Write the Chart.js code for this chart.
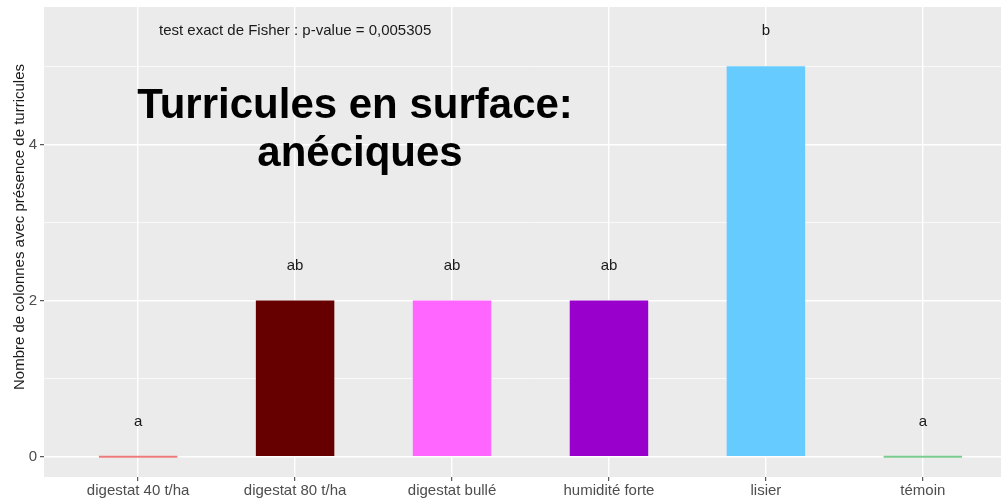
<!DOCTYPE html>
<html>
<head>
<meta charset="utf-8">
<script src="https://cdn.jsdelivr.net/npm/chart.js@4"></script>
<style>
  html, body { margin: 0; padding: 0; background: #fff; overflow: hidden; }
  canvas { display: block; }
</style>
</head>
<body>
<canvas id="chart" width="1017" height="502"></canvas>
<script>
// data
const categories = ['digestat 40 t/ha', 'digestat 80 t/ha', 'digestat bullé', 'humidité forte', 'lisier', 'témoin'];
const counts = [0, 2, 2, 2, 5, 0];
const letters = ['a', 'ab', 'ab', 'ab', 'b', 'a'];
const barColors = ['#EE7B7B', '#660000', '#FF66FF', '#9900CC', '#66CCFF', '#7ACB8E'];
const yTicks = [0, 2, 4];
const yTitle = 'Nombre de colonnes avec présence de turricules';
const fisherText = 'test exact de Fisher : p-value = 0,005305';
const titleLines = ['Turricules en surface:', 'anéciques'];

const FONT = '"Liberation Sans", Arial, sans-serif';

// grey ggplot panel
const panelBg = {
  id: 'panelBg',
  beforeDraw(chart) {
    const a = chart.chartArea;
    const ctx = chart.ctx;
    ctx.save();
    ctx.fillStyle = '#EBEBEB';
    ctx.fillRect(a.left, a.top, a.right - a.left, a.bottom - a.top);
    ctx.restore();
  }
};

// letters above bars, Fisher annotation, y title and the pasted title
const annotations = {
  id: 'annotations',
  afterDatasetsDraw(chart) {
    const ctx = chart.ctx;
    const x = chart.scales.x, y = chart.scales.y;
    ctx.save();
    ctx.fillStyle = '#1A1A1A';
    ctx.font = '15px ' + FONT;
    ctx.textAlign = 'center';
    ctx.textBaseline = 'middle';
    letters.forEach((l, i) => {
      ctx.fillText(l, x.getPixelForValue(i), y.getPixelForValue(counts[i] + 0.45));
    });
    ctx.fillText(fisherText, x.getPixelForValue(1), y.getPixelForValue(5.45));

    // axis title (sits a bit above the panel centre in the original)
    ctx.save();
    ctx.translate(20, 227);
    ctx.rotate(-Math.PI / 2);
    ctx.fillText(yTitle, 0, 0);
    ctx.restore();

    ctx.fillStyle = '#000';
    ctx.font = 'bold 42px ' + FONT;
    ctx.textBaseline = 'alphabetic';
    ctx.fillText(titleLines[0], 355, 118);
    ctx.fillText(titleLines[1], 360, 166);
    ctx.restore();
  }
};

new Chart(document.getElementById('chart'), {
  type: 'bar',
  data: {
    datasets: [{
      data: counts.map((v, i) => ({ x: i, y: v })),
      backgroundColor: barColors,
      borderWidth: 0,
      minBarLength: 2,
      barPercentage: 0.5,
      categoryPercentage: 1
    }]
  },
  options: {
    responsive: false,
    animation: false,
    layout: { padding: { top: 7, right: 0, left: 0, bottom: 0 } },
    plugins: {
      legend: { display: false },
      tooltip: { enabled: false }
    },
    scales: {
      x: {
        type: 'linear',
        min: -0.6,
        max: 5.6,
        offset: false,
        afterBuildTicks: scale => { scale.ticks = categories.map((c, i) => ({ value: i })); },
        afterFit: scale => { scale.height = 25; scale.paddingLeft = 0; scale.paddingRight = 0; },
        border: { display: false },
        grid: {
          offset: false,
          color: '#FFFFFF',
          lineWidth: 1.4,
          tickLength: 4,
          tickColor: '#333333',
          tickWidth: 1
        },
        ticks: {
          autoSkip: false,
          maxRotation: 0,
          padding: 1,
          color: '#4D4D4D',
          font: { family: FONT, size: 15 },
          callback: v => categories[v]
        }
      },
      y: {
        min: -0.26,
        max: 5.76,
        afterBuildTicks: scale => { scale.ticks = [0, 1, 2, 3, 4, 5].map(v => ({ value: v })); },
        afterFit: scale => { scale.width = 44; scale.paddingTop = 0; scale.paddingBottom = 0; },
        border: { display: false },
        grid: {
          color: '#FFFFFF',
          lineWidth: ctx => yTicks.includes(ctx.tick && ctx.tick.value) ? 1.4 : 0.7,
          tickLength: 4,
          tickColor: ctx => yTicks.includes(ctx.tick && ctx.tick.value) ? '#333333' : 'rgba(0,0,0,0)',
          tickWidth: 1
        },
        ticks: {
          padding: 3,
          color: '#4D4D4D',
          font: { family: FONT, size: 15 },
          callback: v => yTicks.includes(v) ? String(v) : ''
        }
      }
    }
  },
  plugins: [panelBg, annotations]
});
</script>
</body>
</html>
